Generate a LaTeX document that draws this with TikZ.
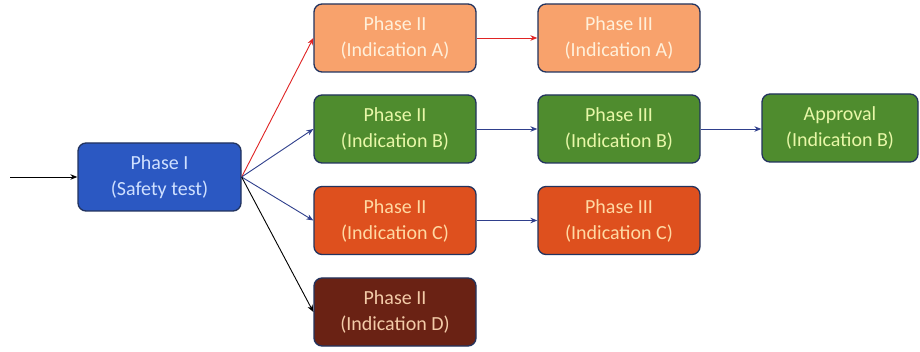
\documentclass[tikz,border=0pt]{standalone}
\usepackage{fontspec}
\setmainfont{Carlito}
\usetikzlibrary{arrows.meta}
\definecolor{bordc}{HTML}{22335E}
\definecolor{fillI}{HTML}{2B58C2}
\definecolor{textI}{HTML}{CFE0FF}
\definecolor{fillA}{HTML}{F8A26C}
\definecolor{textA}{HTML}{FFF0DA}
\definecolor{fillB}{HTML}{4F8C2E}
\definecolor{textB}{HTML}{E8F7A8}
\definecolor{fillC}{HTML}{DE501E}
\definecolor{textC}{HTML}{FFD9A3}
\definecolor{fillD}{HTML}{6A2214}
\definecolor{textD}{HTML}{F3CBA8}
\definecolor{arrred}{HTML}{E02424}
\definecolor{arrblue}{HTML}{2F3F8C}
\begin{document}
\begin{tikzpicture}[x=1pt,y=-1pt,
  box/.style={draw=bordc, line width=1.3pt, rounded corners=8pt, minimum width=162pt, minimum height=68pt, align=center, font=\fontsize{20}{26}\selectfont, inner sep=0pt},
  arr/.style={-{Stealth[length=7pt,width=5.5pt]}, line width=0.9pt}]
\useasboundingbox[fill=white] (0,0) rectangle (920,352);
\node[box, fill=fillI, text=textI, minimum width=163pt] (p1) at (159.5,177) {Phase I\\(Safety test)};
\node[box, fill=fillA, text=textA] (a2) at (395,38) {Phase II\\(Indication A)};
\node[box, fill=fillA, text=textA] (a3) at (619,38) {Phase III\\(Indication A)};
\node[box, fill=fillB, text=textB] (b2) at (395,129) {Phase II\\(Indication B)};
\node[box, fill=fillB, text=textB] (b3) at (619,129) {Phase III\\(Indication B)};
\node[box, fill=fillB, text=textB, minimum width=156pt] (ap) at (840,128) {Approval\\(Indication B)};
\node[box, fill=fillC, text=textC] (c2) at (395,220.5) {Phase II\\(Indication C)};
\node[box, fill=fillC, text=textC] (c3) at (619,220.5) {Phase III\\(Indication C)};
\node[box, fill=fillD, text=textD] (d2) at (395,312) {Phase II\\(Indication D)};
\coordinate (in) at (10,177);
\draw[arr, black] (in) -- (p1.west);
\draw[arr, arrred] (p1.east) -- (a2.west);
\draw[arr, arrblue] (p1.east) -- (b2.west);
\draw[arr, arrblue] (p1.east) -- (c2.west);
\draw[arr, black] (p1.east) -- (d2.west);
\draw[arr, arrred] (a2) -- (a3);
\draw[arr, arrblue] (b2) -- (b3);
\draw[arr, arrblue] (b3.east) -- (b3.east -| ap.west);
\draw[arr, arrblue] (c2) -- (c3);
\end{tikzpicture}
\end{document}
